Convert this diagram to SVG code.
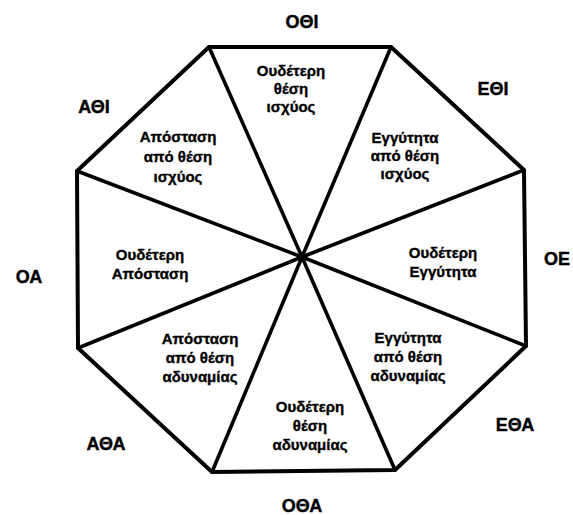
<svg xmlns="http://www.w3.org/2000/svg" width="573" height="515" viewBox="0 0 573 515">
<style>
.edge{fill:none;stroke:#000;stroke-width:4;stroke-linejoin:round;stroke-linecap:round}
.spoke{stroke:#000;stroke-width:3.6;stroke-linecap:round}
.out{font-family:"Liberation Sans",Arial,sans-serif;font-weight:bold;font-size:18px;text-anchor:middle;fill:#000;stroke:#000;stroke-width:0.4}
.in{font-family:"Liberation Sans",Arial,sans-serif;font-weight:bold;font-size:15px;text-anchor:middle;fill:#000;stroke:#000;stroke-width:0.35}
</style>
<rect width="573" height="515" fill="#fff"/>
<g id="octagon">
<polygon class="edge" points="209,47 391,47 524,170 526,346 395,470 212,472 78,348 77,171"/>
</g>
<g id="connectors">
<line class="spoke" x1="302" y1="257" x2="209" y2="47"/>
<line class="spoke" x1="302" y1="257" x2="391" y2="47"/>
<line class="spoke" x1="302" y1="257" x2="524" y2="170"/>
<line class="spoke" x1="302" y1="257" x2="526" y2="346"/>
<line class="spoke" x1="302" y1="257" x2="395" y2="470"/>
<line class="spoke" x1="302" y1="257" x2="212" y2="472"/>
<line class="spoke" x1="302" y1="257" x2="78" y2="348"/>
<line class="spoke" x1="302" y1="257" x2="77" y2="171"/>
<circle cx="302" cy="257" r="4.5" fill="#000"/>
</g>
<g id="label-OTHI"><text class="out" x="302" y="28">ΟΘΙ</text></g>
<g id="label-ETHI"><text class="out" x="493" y="95">ΕΘΙ</text></g>
<g id="label-OE"><text class="out" x="557" y="265">ΟΕ</text></g>
<g id="label-ETHA"><text class="out" x="515" y="431">ΕΘΑ</text></g>
<g id="label-OTHA"><text class="out" x="302" y="512">ΟΘΑ</text></g>
<g id="label-ATHA"><text class="out" x="106" y="450">ΑΘΑ</text></g>
<g id="label-OA"><text class="out" x="29" y="283">ΟΑ</text></g>
<g id="label-ATHI"><text class="out" x="94" y="113">ΑΘΙ</text></g>
<g id="sector-top"><text class="in" x="291" y="76">Ουδέτερη<tspan x="291" dy="18">θέση</tspan><tspan x="291" dy="18">ισχύος</tspan></text></g>
<g id="sector-upper-right"><text class="in" x="405" y="143">Εγγύτητα<tspan x="405" dy="18">από θέση</tspan><tspan x="405" dy="18">ισχύος</tspan></text></g>
<g id="sector-right"><text class="in" x="443" y="258">Ουδέτερη<tspan x="443" dy="19">Εγγύτητα</tspan></text></g>
<g id="sector-lower-right"><text class="in" x="408" y="343">Εγγύτητα<tspan x="408" dy="19">από θέση</tspan><tspan x="408" dy="19">αδυναμίας</tspan></text></g>
<g id="sector-bottom"><text class="in" x="310" y="412">Ουδέτερη<tspan x="310" dy="19">θέση</tspan><tspan x="310" dy="19">αδυναμίας</tspan></text></g>
<g id="sector-lower-left"><text class="in" x="200" y="344">Απόσταση<tspan x="200" dy="19">από θέση</tspan><tspan x="200" dy="19">αδυναμίας</tspan></text></g>
<g id="sector-left"><text class="in" x="150" y="260">Ουδέτερη<tspan x="150" dy="19">Απόσταση</tspan></text></g>
<g id="sector-upper-left"><text class="in" x="178" y="142">Απόσταση<tspan x="178" dy="20">από θέση</tspan><tspan x="178" dy="20">ισχύος</tspan></text></g>
</svg>
